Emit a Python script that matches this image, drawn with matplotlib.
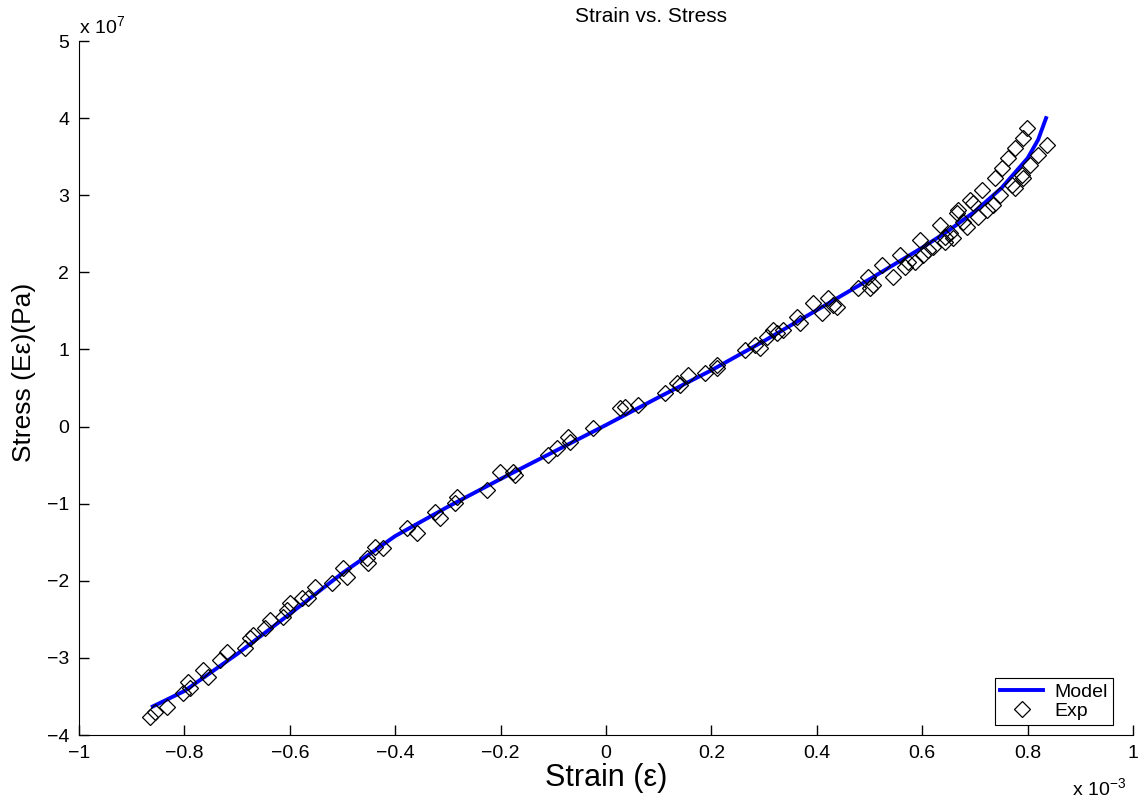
import matplotlib
matplotlib.use("Agg")
import matplotlib.pyplot as plt
import numpy as np

plt.rcParams['font.family'] = ['Liberation Sans', 'DejaVu Sans']
plt.rcParams['mathtext.fontset'] = 'custom'
plt.rcParams['mathtext.rm'] = 'Liberation Sans'
plt.rcParams['mathtext.it'] = 'Liberation Sans:italic'
plt.rcParams['xtick.direction'] = 'in'
plt.rcParams['ytick.direction'] = 'in'

# model curve (strain in 1e-3, stress in 1e7 Pa)
model_strain = [-0.86, -0.8, -0.7, -0.6, -0.5, -0.4, -0.3, -0.2, -0.1, 0.0, 0.1,
                0.2, 0.3, 0.4, 0.5, 0.6, 0.65, 0.7, 0.75, 0.8, 0.82, 0.835]
model_stress = [-3.63, -3.43, -2.95, -2.43, -1.90, -1.42, -1.04, -0.68, -0.33, 0.02, 0.38,
                0.73, 1.11, 1.51, 1.91, 2.32, 2.54, 2.79, 3.09, 3.48, 3.72, 4.0]

# experimental points
exp_strain = [-0.865, -0.856, -0.833, -0.803, -0.793, -0.789, -0.765, -0.755, -0.732, -0.719,
              -0.685, -0.676, -0.670, -0.647, -0.638, -0.613, -0.605, -0.600, -0.577, -0.565,
              -0.552, -0.520, -0.499, -0.491, -0.454, -0.452, -0.438, -0.423, -0.378, -0.359,
              -0.324, -0.315, -0.287, -0.283, -0.226, -0.201, -0.176, -0.173, -0.110, -0.093,
              -0.072, -0.068, -0.025, 0.027, 0.036, 0.061, 0.112, 0.135, 0.140, 0.156,
              0.188, 0.211, 0.211, 0.264, 0.283, 0.292, 0.306, 0.317, 0.324, 0.336,
              0.362, 0.368, 0.393, 0.410, 0.421, 0.431, 0.438, 0.478, 0.497, 0.501,
              0.507, 0.524, 0.545, 0.558, 0.567, 0.573, 0.586, 0.596, 0.602, 0.611,
              0.620, 0.634, 0.643, 0.653, 0.658, 0.666, 0.643, 0.668, 0.677, 0.685,
              0.691, 0.696, 0.706, 0.713, 0.723, 0.734, 0.738, 0.748, 0.751, 0.763,
              0.770, 0.776, 0.776, 0.789, 0.791, 0.791, 0.799, 0.805, 0.820, 0.837]
exp_stress = [-3.766, -3.701, -3.636, -3.455, -3.312, -3.390, -3.157, -3.248, -3.027, -2.924,
              -2.872, -2.742, -2.703, -2.612, -2.508, -2.469, -2.378, -2.288, -2.223, -2.223,
              -2.080, -2.028, -1.834, -1.950, -1.704, -1.769, -1.561, -1.574, -1.315, -1.380,
              -1.108, -1.185, -0.991, -0.913, -0.822, -0.591, -0.591, -0.630, -0.371, -0.280,
              -0.137, -0.202, -0.018, 0.241, 0.254, 0.280, 0.436, 0.565, 0.540, 0.669,
              0.695, 0.799, 0.760, 0.994, 1.058, 1.019, 1.162, 1.253, 1.214, 1.253,
              1.422, 1.344, 1.603, 1.473, 1.668, 1.577, 1.551, 1.798, 1.940, 1.798,
              1.837, 2.096, 1.940, 2.225, 2.070, 2.135, 2.135, 2.420, 2.225, 2.290,
              2.329, 2.614, 2.459, 2.511, 2.446, 2.770, 2.394, 2.809, 2.653, 2.589,
              2.939, 2.900, 2.718, 3.068, 2.809, 2.874, 3.224, 3.003, 3.353, 3.483,
              3.133, 3.094, 3.613, 3.262, 3.224, 3.742, 3.872, 3.392, 3.522, 3.651]

xticks = [-1, -0.8, -0.6, -0.4, -0.2, 0, 0.2, 0.4, 0.6, 0.8, 1]
yticks = [-4, -3, -2, -1, 0, 1, 2, 3, 4, 5]

fig = plt.figure(figsize=(11.41, 8.01), dpi=100)
ax = fig.add_axes([79 / 1141, 1 - 735 / 801, 1054 / 1141, 694 / 801])

ax.plot(model_strain, model_stress, color='#0000ff', lw=2.8, label='Model', zorder=2)
ax.plot(exp_strain, exp_stress, ls='none', marker='D', ms=8, mfc='none',
        mec='black', mew=0.9, label='Exp', zorder=3)

ax.set_xlim(-1, 1)
ax.set_ylim(-4, 5)
ax.set_xticks(xticks)
ax.set_yticks(yticks)
ax.set_xticklabels([f'{t:g}'.replace('-', '\u2212') for t in xticks])
ax.set_yticklabels([f'{t:g}'.replace('-', '\u2212') for t in yticks])
ax.tick_params(direction='in', length=7, width=1, labelsize=14, pad=7)
ax.spines['top'].set_visible(False)
ax.spines['right'].set_visible(False)

ax.set_xlabel('Strain (ε)', fontsize=22, labelpad=1)
ax.set_ylabel('Stress (Eε)(Pa)', fontsize=19)
ax.yaxis.set_label_coords(-0.041, 0.523)
ax.set_title('Strain vs. Stress', fontsize=15, x=(651 - 79) / 1054, pad=14)

fig.text(79 / 1141, 1 - 33 / 801, r'x 10$^{7}$', fontsize=14, ha='left', va='baseline')
fig.text(1072 / 1141, 1 - 795 / 801, r'x 10$^{-3}$', fontsize=14, ha='left', va='baseline')

leg = ax.legend(loc='lower right', bbox_to_anchor=((1113 - 79) / 1054, 10 / 694),
                borderaxespad=0, fontsize=14, frameon=True, fancybox=False,
                edgecolor='black', framealpha=1, handlelength=2.2, handletextpad=0.6,
                labelspacing=0.1, borderpad=0.25)
leg.get_frame().set_linewidth(0.8)

fig.savefig('out.png', dpi=100)
